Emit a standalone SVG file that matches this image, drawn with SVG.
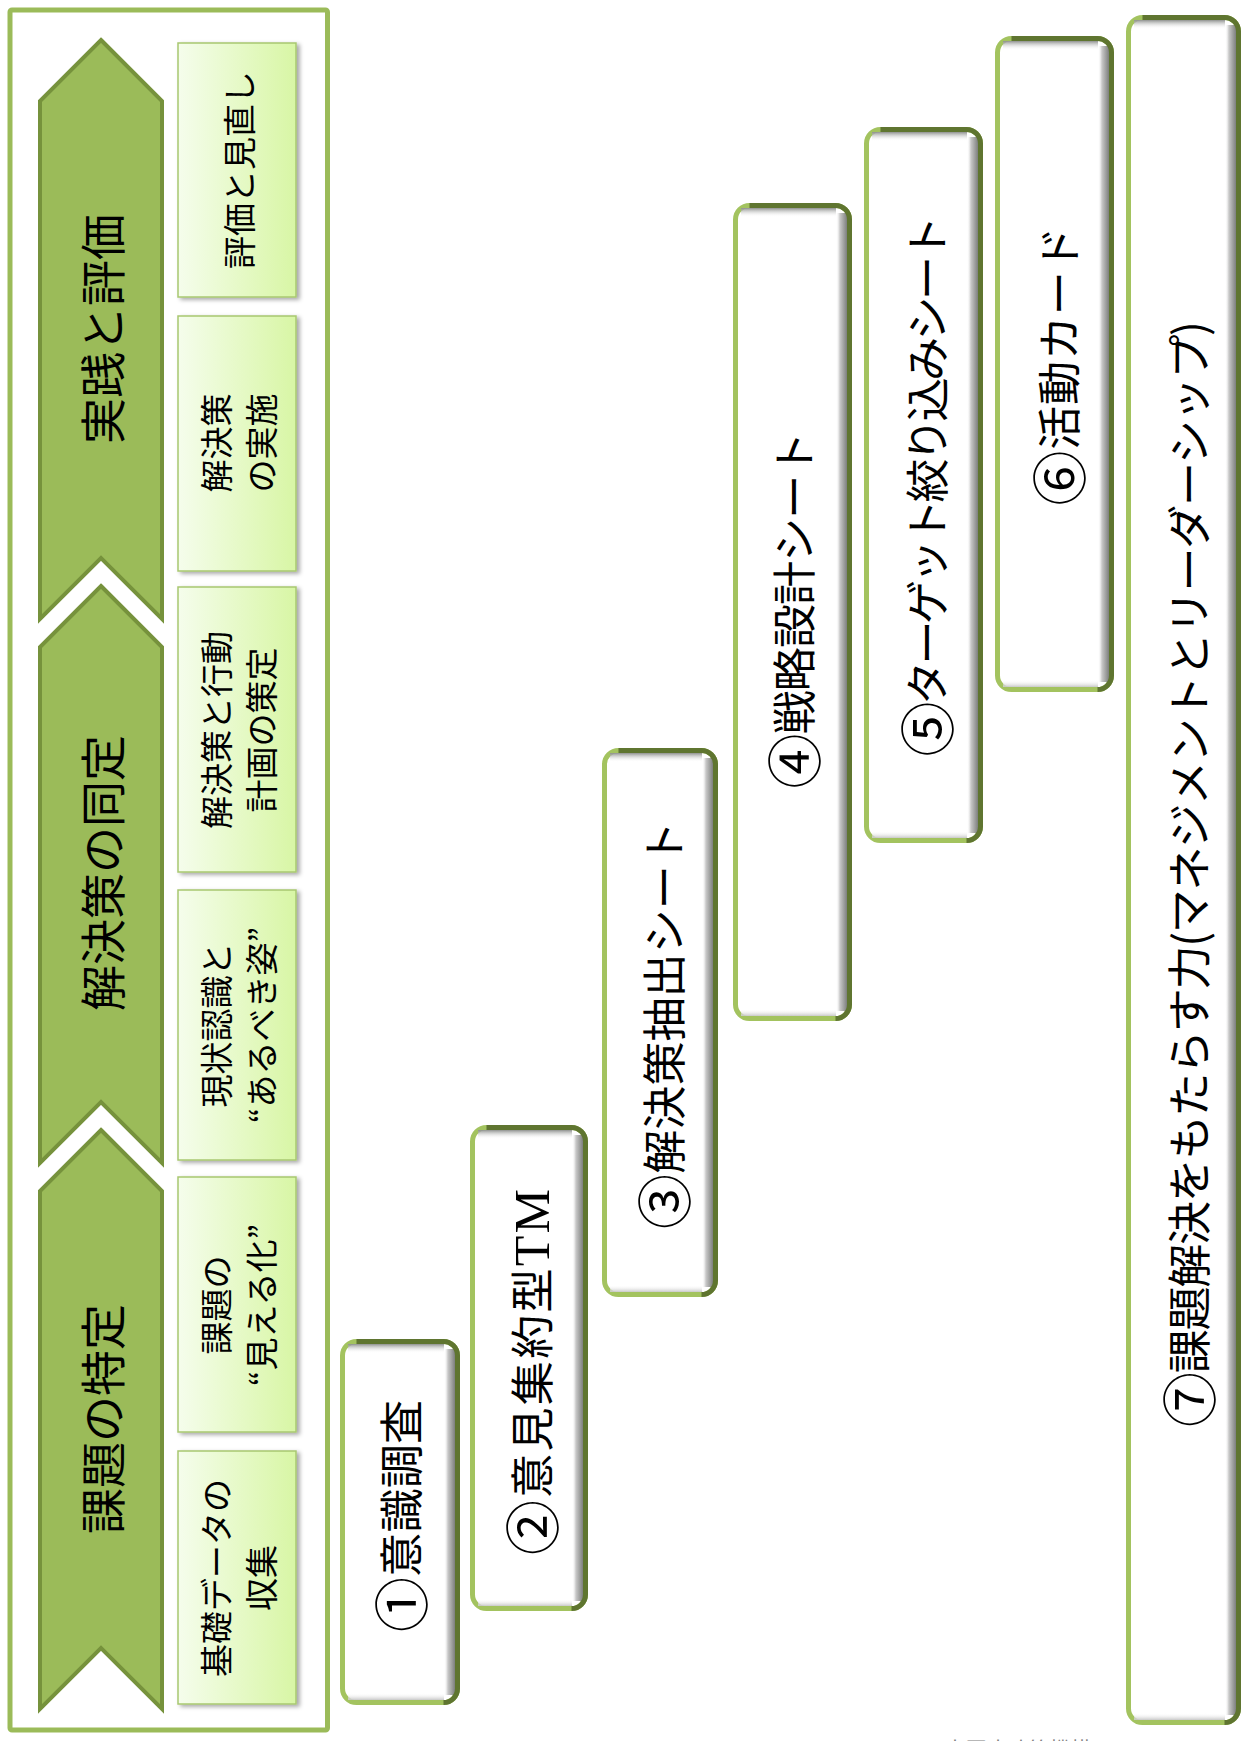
<svg xmlns="http://www.w3.org/2000/svg" width="1242" height="1741" viewBox="0 0 1242 1741">
<style>
text{font-family:"Noto Sans CJK JP","Noto Sans CJK SC",sans-serif;fill:#000}
.chev{fill:#9bbb59;stroke:#76923c;stroke-width:4;stroke-linejoin:miter}
.ct{font-size:46px;text-anchor:middle}
.lb{fill:url(#lg);stroke:#a8c870;stroke-width:1.5;filter:url(#sh)}
.lt{font-size:33px;text-anchor:middle}
.so{fill:#fff;stroke:#a3c35f;stroke-width:5}
.sd{fill:none;stroke:#5f7530;stroke-width:5}
.br{fill:url(#bandR)}
.bt{fill:url(#bandT)}
.bb{fill:url(#bandB)}
.st{font-size:44px;text-anchor:middle}
.cn{font-size:55px}
.cp{font-size:21px;fill:#7f7f7f}
</style>
<defs>
<linearGradient id="lg" x1="0" y1="0" x2="1" y2="0"><stop offset="0" stop-color="#f5fdec"/><stop offset="1" stop-color="#d8f6a5"/></linearGradient>
<linearGradient id="bandR" x1="0" y1="0" x2="1" y2="0"><stop offset="0" stop-color="#ffffff" stop-opacity="0"/><stop offset="0.35" stop-color="#c9c9c9"/><stop offset="1" stop-color="#7d7f7d"/></linearGradient>
<linearGradient id="bandT" x1="0" y1="0" x2="0" y2="1"><stop offset="0" stop-color="#8f918f"/><stop offset="1" stop-color="#ffffff" stop-opacity="0"/></linearGradient>
<linearGradient id="bandB" x1="0" y1="0" x2="0" y2="1"><stop offset="0" stop-color="#ffffff" stop-opacity="0"/><stop offset="1" stop-color="#c8c8c8"/></linearGradient>
<filter id="sh" x="-10%" y="-5%" width="125%" height="115%"><feDropShadow dx="3" dy="2" stdDeviation="2" flood-color="#000" flood-opacity="0.35"/></filter>
</defs>
<rect width="1242" height="1741" fill="#fff"/>
<g id="frame"><rect x="10" y="10" width="317.5" height="1720" rx="2" fill="none" stroke="#9bbb59" stroke-width="5"/></g>

<g id="phase-jissen">
<path class="chev" d="M101,40 L162,101 L162,619 L101,558 L40,619 L40,101 Z"/>
<text class="ct" transform="translate(104,329) rotate(-90)" y="16">実践と評価</text>
</g>
<g id="phase-kaiketsu">
<path class="chev" d="M101,586 L162,647 L162,1163 L101,1102 L40,1163 L40,647 Z"/>
<text class="ct" transform="translate(104,873) rotate(-90)" y="16">解決策の同定</text>
</g>
<g id="phase-kadai">
<path class="chev" d="M101,1130 L162,1191 L162,1709 L101,1648 L40,1709 L40,1191 Z"/>
<text class="ct" transform="translate(104,1419) rotate(-90)" y="16">課題の特定</text>
</g>

<g id="sub-hyoka">
<rect class="lb" x="178" y="43" width="118" height="254"/>
<text class="lt" transform="translate(240,170) rotate(-90)" y="12">評価と見直し</text>
</g>
<g id="sub-jisshi">
<rect class="lb" x="178" y="316" width="118" height="255"/>
<text class="lt" transform="translate(239.5,443) rotate(-90)"><tspan x="0" y="-10.5">解決策</tspan><tspan x="0" y="34.5">の実施</tspan></text>
</g>
<g id="sub-sakutei">
<rect class="lb" x="178" y="587" width="118" height="285"/>
<text class="lt" transform="translate(239.5,730) rotate(-90)"><tspan x="0" y="-10.5">解決策と行動</tspan><tspan x="0" y="34.5">計画の策定</tspan></text>
</g>
<g id="sub-genjo">
<rect class="lb" x="178" y="890" width="118" height="270"/>
<text class="lt" transform="translate(239.5,1025) rotate(-90)"><tspan x="0" y="-10.5">現状認識と</tspan><tspan x="0" y="34.5">“あるべき姿”</tspan></text>
</g>
<g id="sub-mieruka">
<rect class="lb" x="178" y="1177" width="118" height="255"/>
<text class="lt" transform="translate(239.5,1305) rotate(-90)"><tspan x="0" y="-10.5">課題の</tspan><tspan x="0" y="34.5">“見える化”</tspan></text>
</g>
<g id="sub-kiso">
<rect class="lb" x="178" y="1451" width="118" height="253"/>
<text class="lt" transform="translate(239.5,1578) rotate(-90)"><tspan x="0" y="-10.5">基礎データの</tspan><tspan x="0" y="34.5">収集</tspan></text>
</g>

<g id="step1">
<rect class="so" x="342.5" y="1341.5" width="115" height="361" rx="14"/>
<rect class="br" x="444" y="1349" width="11" height="346"/>
<rect class="bt" x="348" y="1344" width="96" height="9"/>
<rect class="bb" x="348" y="1693" width="96" height="7"/>
<path class="sd" d="M356.5,1341.5 H443.5 A14,14 0 0 1 457.5,1355.5 V1688.5 A14,14 0 0 1 443.5,1702.5"/>
<text class="st" transform="translate(402,1516) rotate(-90)" y="16" textLength="232" lengthAdjust="spacing"><tspan class="cn" dy="4">①</tspan><tspan dy="-4">意識調査</tspan></text>
</g>
<g id="step2">
<rect class="so" x="472.5" y="1127.5" width="113" height="481" rx="14"/>
<rect class="br" x="572" y="1135" width="11" height="466"/>
<rect class="bt" x="478" y="1130" width="94" height="9"/>
<rect class="bb" x="478" y="1599" width="94" height="7"/>
<path class="sd" d="M486.5,1127.5 H571.5 A14,14 0 0 1 585.5,1141.5 V1594.5 A14,14 0 0 1 571.5,1608.5"/>
<text class="st" transform="translate(533,1372) rotate(-90)" y="16" textLength="366" lengthAdjust="spacing"><tspan class="cn" dy="4">②</tspan><tspan dy="-4">意見集約型</tspan><tspan font-family="Liberation Serif, serif" font-size="50px">TM</tspan></text>
</g>
<g id="step3">
<rect class="so" x="604.5" y="750.5" width="111" height="544" rx="14"/>
<rect class="br" x="702" y="758" width="11" height="529"/>
<rect class="bt" x="610" y="753" width="92" height="9"/>
<rect class="bb" x="610" y="1285" width="92" height="7"/>
<path class="sd" d="M618.5,750.5 H701.5 A14,14 0 0 1 715.5,764.5 V1280.5 A14,14 0 0 1 701.5,1294.5"/>
<text class="st" transform="translate(665,1025) rotate(-90)" y="16" textLength="408" lengthAdjust="spacing"><tspan class="cn" dy="4">③</tspan><tspan dy="-4">解決策抽出シート</tspan></text>
</g>
<g id="step4">
<rect class="so" x="735.5" y="205.5" width="114" height="813" rx="14"/>
<rect class="br" x="836" y="213" width="11" height="798"/>
<rect class="bt" x="741" y="208" width="95" height="9"/>
<rect class="bb" x="741" y="1009" width="95" height="7"/>
<path class="sd" d="M749.5,205.5 H835.5 A14,14 0 0 1 849.5,219.5 V1004.5 A14,14 0 0 1 835.5,1018.5"/>
<text class="st" transform="translate(795,610) rotate(-90)" y="16" textLength="357" lengthAdjust="spacing"><tspan class="cn" dy="4">④</tspan><tspan dy="-4">戦略設計シート</tspan></text>
</g>
<g id="step5">
<rect class="so" x="866.5" y="129.5" width="114" height="711" rx="14"/>
<rect class="br" x="967" y="137" width="11" height="696"/>
<rect class="bt" x="872" y="132" width="95" height="9"/>
<rect class="bb" x="872" y="831" width="95" height="7"/>
<path class="sd" d="M880.5,129.5 H966.5 A14,14 0 0 1 980.5,143.5 V826.5 A14,14 0 0 1 966.5,840.5"/>
<text class="st" transform="translate(928,486) rotate(-90)" y="16" textLength="541" lengthAdjust="spacing"><tspan class="cn" dy="4">⑤</tspan><tspan dy="-4">ターゲット絞り込みシート</tspan></text>
</g>
<g id="step6">
<rect class="so" x="997.5" y="38.5" width="114" height="651" rx="14"/>
<rect class="br" x="1098" y="46" width="11" height="636"/>
<rect class="bt" x="1003" y="41" width="95" height="9"/>
<rect class="bb" x="1003" y="680" width="95" height="7"/>
<path class="sd" d="M1011.5,38.5 H1097.5 A14,14 0 0 1 1111.5,52.5 V675.5 A14,14 0 0 1 1097.5,689.5"/>
<text class="st" transform="translate(1060,366) rotate(-90)" y="16" textLength="279" lengthAdjust="spacing"><tspan class="cn" dy="4">⑥</tspan><tspan dy="-4">活動カード</tspan></text>
</g>
<g id="step7">
<rect class="so" x="1128.5" y="17.5" width="110" height="1705" rx="14"/>
<rect class="br" x="1225" y="25" width="11" height="1690"/>
<rect class="bt" x="1134" y="20" width="91" height="9"/>
<rect class="bb" x="1134" y="1713" width="91" height="7"/>
<path class="sd" d="M1142.5,17.5 H1224.5 A14,14 0 0 1 1238.5,31.5 V1708.5 A14,14 0 0 1 1224.5,1722.5"/>
<text class="st" transform="translate(1190,874) rotate(-90)" y="16" textLength="1106" lengthAdjust="spacing"><tspan class="cn" dy="4">⑦</tspan><tspan dy="-4">課題解決をもたらす力(マネジメントとリーダーシップ)</tspan></text>
</g>

<g id="connectors"/>
<g id="credit"><text class="cp" x="906" y="1757">©日本医療政策機構</text></g>
</svg>
